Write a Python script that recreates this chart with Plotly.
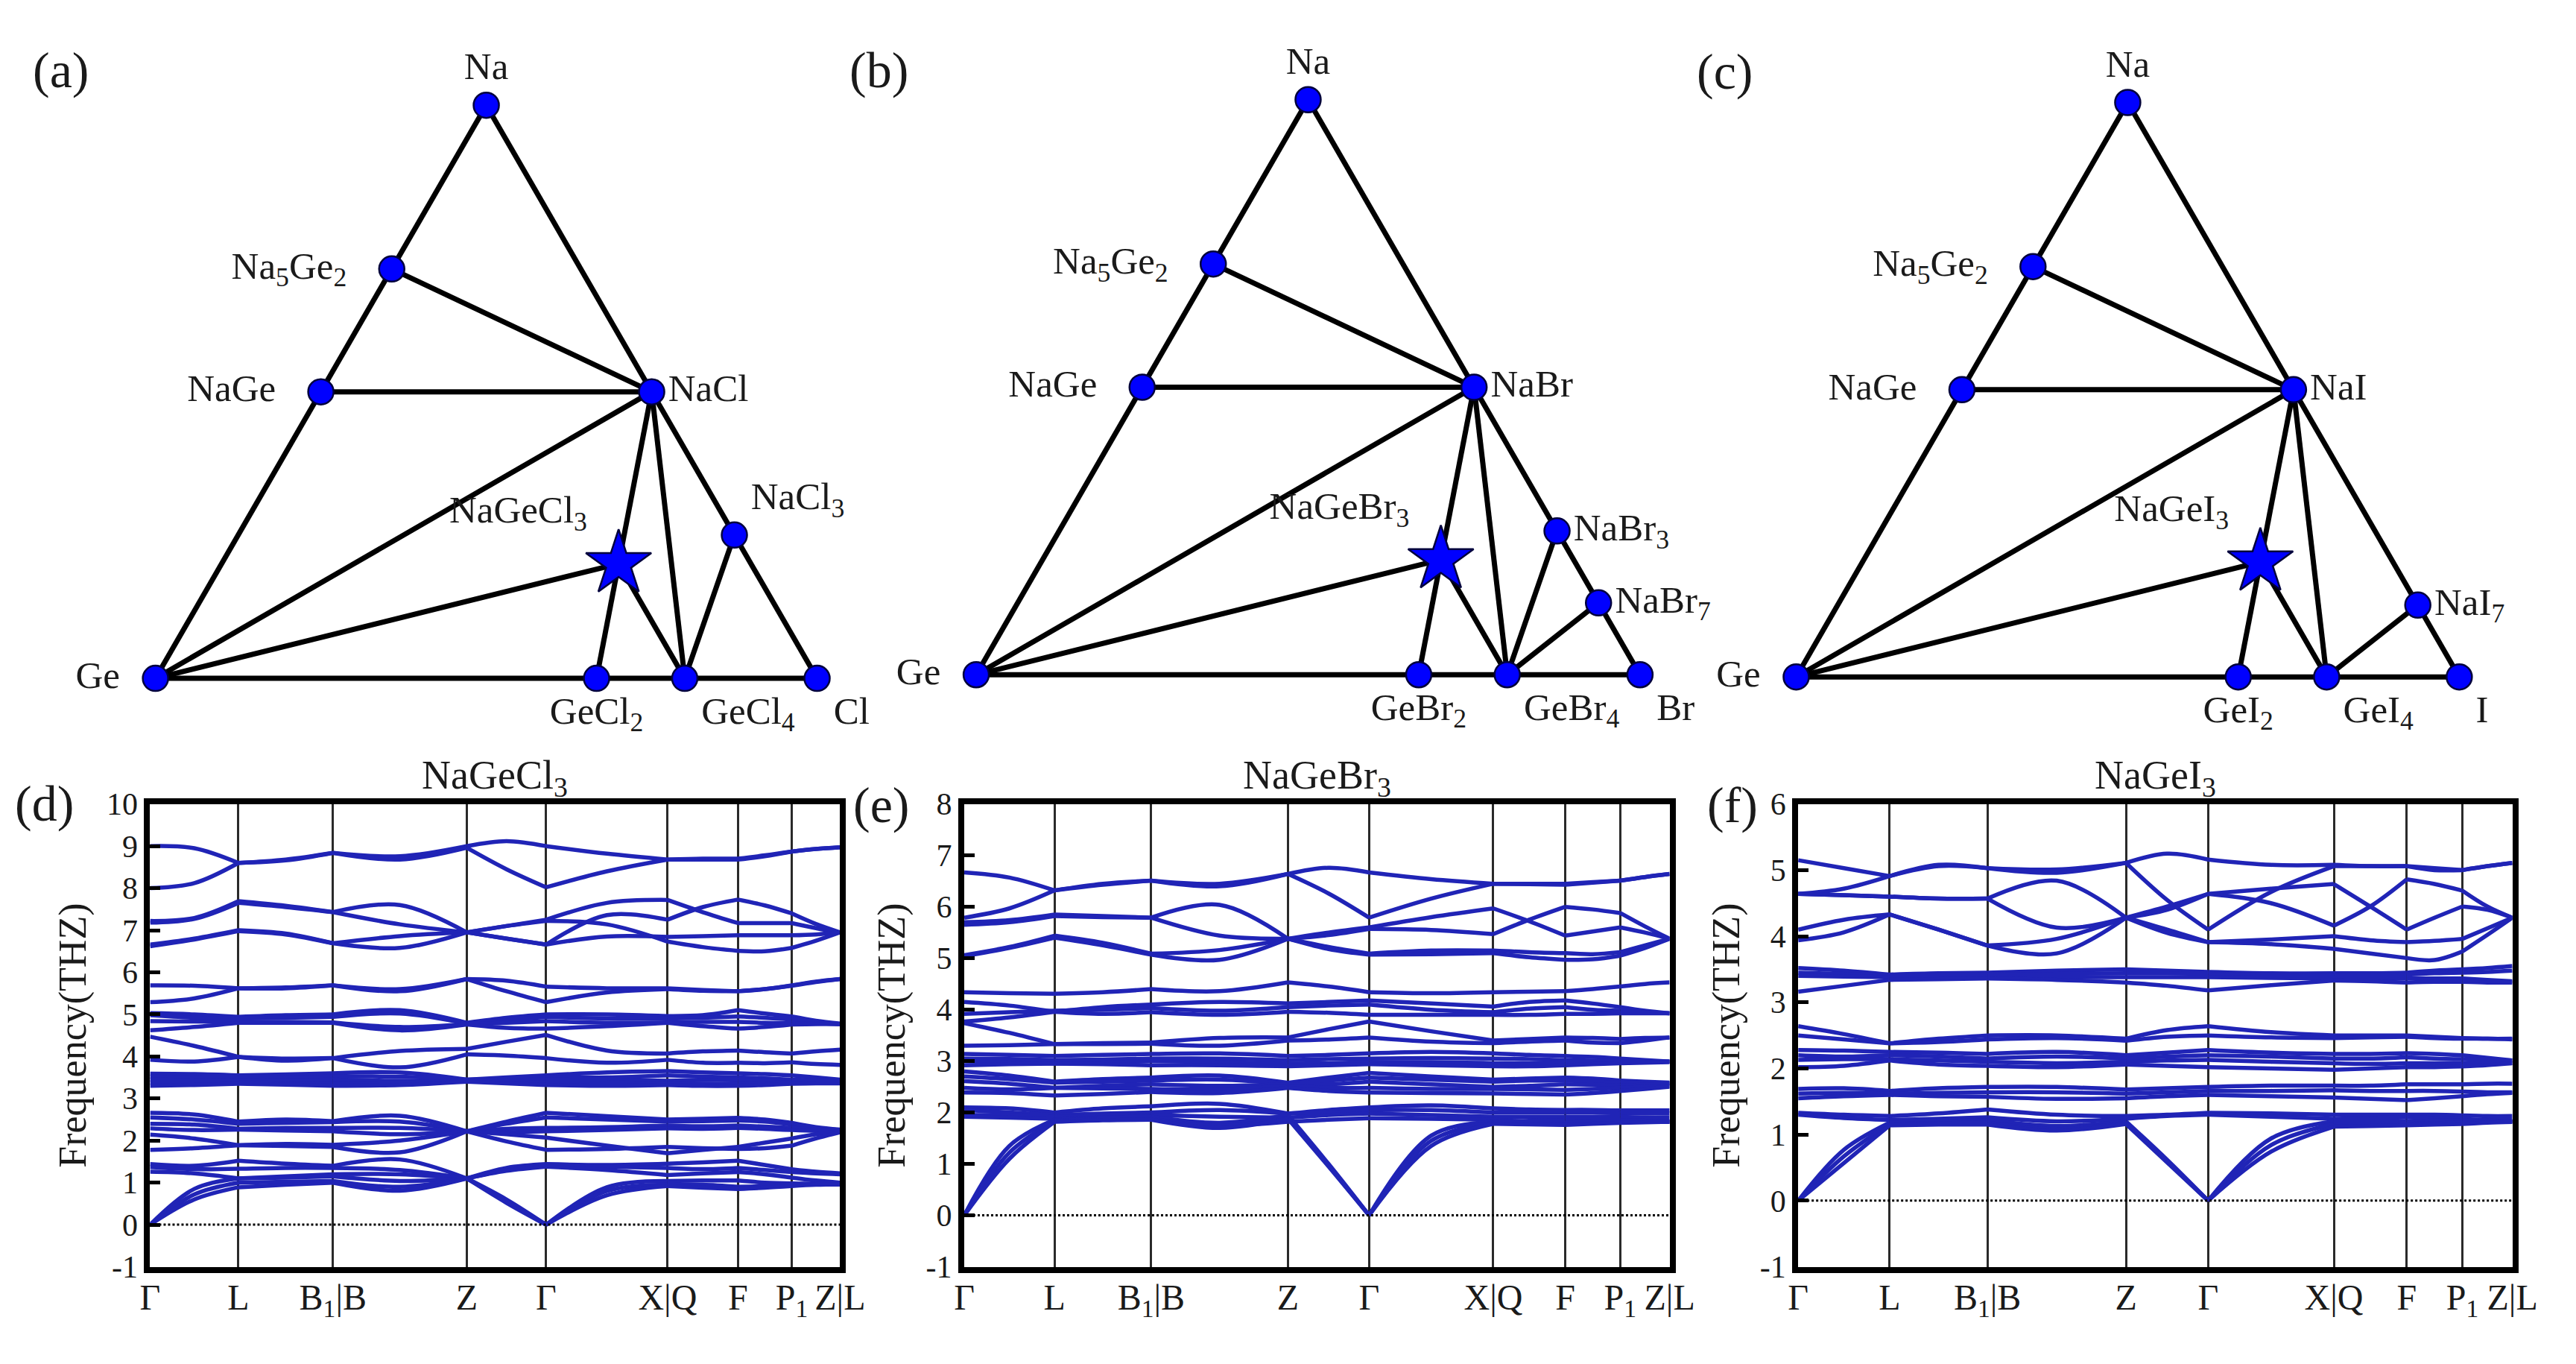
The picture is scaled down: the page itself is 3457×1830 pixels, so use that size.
import plotly.graph_objects as go

W, H = 3457, 1830           # browser window
OFF = 8                      # default body margin of the html page
FIG_W, FIG_H = W - 2 * OFF, H - 2 * OFF
FONT = "Liberation Serif"
TXT = "#1a1a1a"
BAND_COLOR = "rgb(32,36,182)"
DOT_COLOR = "rgb(0,0,255)"
NB = "\u00a0"

COMP_A = {
    "Na": (1, 0, 0), "Na5Ge2": (5/7, 2/7, 0), "NaGe": (0.5, 0.5, 0), "Ge": (0, 1, 0),
    "NaCl": (0.5, 0, 0.5), "NaCl3": (0.25, 0, 0.75), "GeCl2": (0, 1/3, 2/3),
    "GeCl4": (0, 0.2, 0.8), "Cl": (0, 0, 1), "NaGeCl3": (0.2, 0.2, 0.6),
}
COMP_B = {
    "Na": (1, 0, 0), "Na5Ge2": (5/7, 2/7, 0), "NaGe": (0.5, 0.5, 0), "Ge": (0, 1, 0),
    "NaBr": (0.5, 0, 0.5), "NaBr3": (0.25, 0, 0.75), "NaBr7": (0.125, 0, 0.875),
    "GeBr2": (0, 1/3, 2/3), "GeBr4": (0, 0.2, 0.8), "Br": (0, 0, 1),
    "NaGeBr3": (0.2, 0.2, 0.6),
}
COMP_C = {
    "Na": (1, 0, 0), "Na5Ge2": (5/7, 2/7, 0), "NaGe": (0.5, 0.5, 0), "Ge": (0, 1, 0),
    "NaI": (0.5, 0, 0.5), "NaI7": (0.125, 0, 0.875), "GeI2": (0, 1/3, 2/3),
    "GeI4": (0, 0.2, 0.8), "I": (0, 0, 1), "NaGeI3": (0.2, 0.2, 0.6),
}
TIES_A = [("Na5Ge2", "NaCl"), ("NaGe", "NaCl"), ("Ge", "NaCl"), ("Ge", "NaGeCl3"),
          ("NaCl", "NaGeCl3"), ("NaGeCl3", "GeCl2"), ("NaGeCl3", "GeCl4"),
          ("NaCl", "GeCl4"), ("NaCl3", "GeCl4")]
TIES_B = [("Na5Ge2", "NaBr"), ("NaGe", "NaBr"), ("Ge", "NaBr"), ("Ge", "NaGeBr3"),
          ("NaBr", "NaGeBr3"), ("NaGeBr3", "GeBr2"), ("NaGeBr3", "GeBr4"),
          ("NaBr", "GeBr4"), ("NaBr3", "GeBr4"), ("NaBr7", "GeBr4")]
TIES_C = [("Na5Ge2", "NaI"), ("NaGe", "NaI"), ("Ge", "NaI"), ("Ge", "NaGeI3"),
          ("NaI", "NaGeI3"), ("NaGeI3", "GeI2"), ("NaGeI3", "GeI4"),
          ("NaI", "GeI4"), ("NaI7", "GeI4")]
LABELS = {
    "Na": "Na", "Na5Ge2": "Na<sub>5</sub>Ge<sub>2</sub>" + NB * 3, "NaGe": "NaGe" + NB * 3,
    "Ge": "Ge" + NB * 2,
    "NaCl": "NaCl", "NaCl3": "NaCl<sub>3</sub>", "GeCl2": "GeCl<sub>2</sub>",
    "GeCl4": "GeCl<sub>4</sub>", "Cl": "Cl", "NaGeCl3": "NaGeCl<sub>3</sub>",
    "NaBr": "NaBr", "NaBr3": "NaBr<sub>3</sub>", "NaBr7": "NaBr<sub>7</sub>",
    "GeBr2": "GeBr<sub>2</sub>", "GeBr4": "GeBr<sub>4</sub>", "Br": "Br",
    "NaGeBr3": "NaGeBr<sub>3</sub>",
    "NaI": "NaI", "NaI7": "NaI<sub>7</sub>", "GeI2": "GeI<sub>2</sub>",
    "GeI4": "GeI<sub>4</sub>", "I": "I", "NaGeI3": "NaGeI<sub>3</sub>",
}
POS = {
    "Na": "top center", "Na5Ge2": "middle left", "NaGe": "middle left", "Ge": "middle left",
    "NaCl": "middle right", "NaCl3": "top right", "GeCl2": "bottom center",
    "GeCl4": "bottom right", "Cl": "bottom right", "NaGeCl3": "top left",
    "NaBr": "middle right", "NaBr3": "middle right", "NaBr7": "middle right",
    "GeBr2": "bottom center", "GeBr4": "bottom right", "Br": "bottom right",
    "NaGeBr3": "top left",
    "NaI": "middle right", "NaI7": "middle right", "GeI2": "bottom center",
    "GeI4": "bottom right", "I": "bottom right", "NaGeI3": "top left",
}
STARS = {"NaGeCl3", "NaGeBr3", "NaGeI3"}

K_HS = [0.0, 0.128, 0.265, 0.459, 0.574, 0.750, 0.852, 0.930, 1.0]
K_PATH = [0.0, 0.064, 0.128, 0.1965, 0.265, 0.362, 0.459, 0.5165, 0.574,
          0.662, 0.750, 0.801, 0.852, 0.891, 0.930, 0.965, 1.0]
K_LABELS = ["Γ", "L", "B<sub>1</sub>|B", "Z", "Γ", "X|Q", "F", "P<sub>1</sub>", "Z|L"]

BANDS_CL = [
    [9.00, 8.95, 8.60, 8.68, 8.84, 8.76, 9.00, 9.12, 9.00, 8.82, 8.68, 8.68, 8.68, 8.76, 8.87, 8.93, 8.97],
    [8.00, 8.12, 8.60, 8.66, 8.84, 8.68, 8.96, 8.45, 8.02, 8.40, 8.68, 8.70, 8.70, 8.78, 8.87, 8.93, 8.97],
    [7.22, 7.29, 7.69, 7.58, 7.43, 7.60, 6.95, 7.10, 7.25, 7.65, 7.72, 7.43, 7.17, 7.17, 7.17, 7.05, 6.95],
    [7.18, 7.27, 7.65, 7.55, 7.43, 7.14, 6.95, 7.10, 7.22, 7.14, 6.73, 6.60, 6.51, 6.50, 6.58, 6.75, 6.95],
    [6.66, 6.80, 7.00, 6.92, 6.69, 6.86, 6.95, 6.80, 6.66, 7.36, 7.25, 7.55, 7.73, 7.59, 7.40, 7.15, 6.95],
    [6.62, 6.78, 6.98, 6.90, 6.69, 6.58, 6.95, 6.80, 6.66, 6.85, 6.84, 6.86, 6.88, 6.88, 6.88, 6.90, 6.95],
    [5.69, 5.68, 5.62, 5.64, 5.69, 5.60, 5.84, 5.80, 5.66, 5.62, 5.62, 5.58, 5.55, 5.60, 5.69, 5.78, 5.84],
    [5.29, 5.38, 5.62, 5.62, 5.69, 5.55, 5.84, 5.55, 5.29, 5.52, 5.60, 5.56, 5.55, 5.60, 5.68, 5.77, 5.84],
    [5.03, 5.00, 4.94, 4.98, 5.00, 5.10, 4.80, 4.92, 5.00, 5.00, 4.96, 4.98, 5.10, 5.02, 4.95, 4.85, 4.78],
    [4.98, 4.92, 4.90, 4.92, 4.94, 5.02, 4.78, 4.86, 4.94, 4.90, 4.90, 4.92, 4.95, 4.92, 4.88, 4.82, 4.77],
    [4.84, 4.83, 4.82, 4.82, 4.81, 4.70, 4.77, 4.80, 4.84, 4.80, 4.81, 4.82, 4.82, 4.80, 4.79, 4.78, 4.77],
    [4.62, 4.70, 4.80, 4.80, 4.80, 4.62, 4.76, 4.68, 4.66, 4.72, 4.80, 4.72, 4.66, 4.70, 4.76, 4.77, 4.77],
    [4.47, 4.25, 3.99, 3.95, 3.96, 4.13, 4.18, 4.35, 4.51, 4.14, 4.07, 4.12, 4.14, 4.10, 4.07, 4.12, 4.16],
    [3.92, 3.88, 3.99, 3.90, 3.96, 3.74, 4.05, 4.02, 3.96, 3.85, 3.92, 3.85, 3.85, 3.84, 3.86, 3.82, 3.80],
    [3.59, 3.58, 3.55, 3.57, 3.60, 3.62, 3.45, 3.50, 3.55, 3.62, 3.65, 3.62, 3.60, 3.58, 3.55, 3.50, 3.45],
    [3.52, 3.50, 3.48, 3.50, 3.52, 3.52, 3.45, 3.47, 3.50, 3.50, 3.55, 3.52, 3.50, 3.48, 3.45, 3.44, 3.42],
    [3.45, 3.44, 3.42, 3.43, 3.45, 3.42, 3.42, 3.44, 3.45, 3.45, 3.42, 3.44, 3.45, 3.43, 3.40, 3.40, 3.40],
    [3.38, 3.38, 3.38, 3.37, 3.36, 3.38, 3.42, 3.40, 3.38, 3.38, 3.36, 3.35, 3.36, 3.37, 3.38, 3.38, 3.38],
    [3.30, 3.32, 3.35, 3.33, 3.30, 3.32, 3.40, 3.36, 3.32, 3.30, 3.32, 3.30, 3.30, 3.32, 3.35, 3.36, 3.36],
    [2.66, 2.62, 2.45, 2.50, 2.46, 2.59, 2.22, 2.45, 2.66, 2.58, 2.50, 2.52, 2.54, 2.50, 2.42, 2.32, 2.26],
    [2.55, 2.50, 2.40, 2.42, 2.44, 2.45, 2.22, 2.40, 2.55, 2.50, 2.45, 2.46, 2.48, 2.45, 2.38, 2.30, 2.25],
    [2.40, 2.38, 2.28, 2.30, 2.30, 2.30, 2.22, 2.28, 2.30, 2.32, 2.36, 2.34, 2.36, 2.33, 2.30, 2.26, 2.24],
    [2.29, 2.25, 2.26, 2.24, 2.22, 2.15, 2.22, 2.20, 2.22, 2.25, 2.29, 2.28, 2.30, 2.28, 2.25, 2.23, 2.22],
    [2.14, 2.05, 1.89, 1.92, 1.90, 2.00, 2.22, 2.15, 2.07, 1.88, 1.70, 1.78, 1.85, 1.95, 2.05, 2.15, 2.22],
    [1.78, 1.82, 1.89, 1.87, 1.85, 1.72, 2.22, 1.98, 1.78, 1.80, 1.85, 1.82, 1.80, 1.82, 1.88, 2.05, 2.20],
    [1.44, 1.40, 1.52, 1.45, 1.40, 1.55, 1.10, 1.35, 1.44, 1.42, 1.45, 1.48, 1.52, 1.42, 1.32, 1.26, 1.22],
    [1.37, 1.32, 1.33, 1.35, 1.35, 1.30, 1.10, 1.30, 1.40, 1.38, 1.35, 1.32, 1.35, 1.30, 1.25, 1.22, 1.20],
    [1.26, 1.22, 1.10, 1.15, 1.20, 1.20, 1.10, 1.28, 1.38, 1.30, 1.18, 1.22, 1.25, 1.20, 1.12, 1.05, 1.00],
    [0.00, 0.85, 1.10, 1.12, 1.15, 1.04, 1.10, 0.60, 0.00, 0.89, 1.04, 1.05, 1.05, 1.00, 0.98, 0.97, 0.96],
    [0.00, 0.72, 1.00, 1.02, 1.04, 0.90, 1.10, 0.56, 0.00, 0.80, 0.95, 0.95, 0.90, 0.92, 0.95, 0.96, 0.96],
    [0.00, 0.60, 0.89, 0.95, 1.00, 0.81, 1.10, 0.52, 0.00, 0.70, 0.92, 0.88, 0.85, 0.88, 0.92, 0.95, 0.96],
]

BANDS_BR = [
    [6.67, 6.57, 6.32, 6.45, 6.51, 6.45, 6.64, 6.76, 6.67, 6.54, 6.45, 6.45, 6.45, 6.48, 6.51, 6.58, 6.64],
    [5.79, 5.97, 6.32, 6.43, 6.51, 6.40, 6.64, 6.26, 5.79, 6.16, 6.45, 6.44, 6.43, 6.47, 6.51, 6.58, 6.64],
    [5.70, 5.74, 5.85, 5.82, 5.79, 6.04, 5.38, 5.50, 5.60, 5.80, 5.97, 5.72, 5.44, 5.52, 5.60, 5.50, 5.38],
    [5.65, 5.70, 5.82, 5.80, 5.79, 5.44, 5.38, 5.45, 5.57, 5.55, 5.47, 5.75, 6.00, 5.95, 5.88, 5.62, 5.38],
    [5.06, 5.22, 5.44, 5.30, 5.09, 5.16, 5.38, 5.22, 5.09, 5.15, 5.15, 5.12, 5.10, 5.08, 5.12, 5.25, 5.38],
    [5.04, 5.20, 5.40, 5.25, 5.07, 4.97, 5.38, 5.18, 5.07, 5.08, 5.10, 5.02, 4.97, 4.98, 5.05, 5.20, 5.38],
    [4.34, 4.32, 4.31, 4.34, 4.40, 4.36, 4.53, 4.45, 4.34, 4.32, 4.34, 4.35, 4.36, 4.40, 4.45, 4.50, 4.53],
    [4.15, 4.08, 3.96, 4.05, 4.10, 4.15, 4.12, 4.15, 4.18, 4.12, 4.06, 4.15, 4.18, 4.12, 4.05, 3.98, 3.93],
    [3.92, 3.95, 3.98, 4.00, 4.03, 3.98, 4.05, 4.08, 4.10, 4.00, 3.95, 4.02, 4.05, 4.00, 3.98, 3.95, 3.93],
    [3.77, 3.85, 3.96, 3.92, 3.95, 3.90, 3.96, 3.94, 3.90, 3.90, 3.90, 3.90, 3.92, 3.92, 3.93, 3.93, 3.93],
    [3.74, 3.55, 3.33, 3.35, 3.36, 3.45, 3.46, 3.62, 3.77, 3.58, 3.40, 3.43, 3.46, 3.45, 3.43, 3.45, 3.46],
    [3.30, 3.31, 3.33, 3.33, 3.34, 3.30, 3.40, 3.42, 3.46, 3.38, 3.35, 3.38, 3.40, 3.36, 3.35, 3.40, 3.46],
    [3.14, 3.12, 3.10, 3.12, 3.14, 3.15, 3.10, 3.12, 3.15, 3.18, 3.15, 3.12, 3.10, 3.08, 3.05, 3.02, 2.99],
    [3.05, 3.04, 3.02, 3.03, 3.05, 3.05, 3.02, 3.04, 3.05, 3.06, 3.05, 3.04, 3.02, 3.01, 3.00, 2.99, 2.99],
    [3.00, 2.98, 2.95, 2.97, 3.00, 2.98, 2.95, 2.96, 2.98, 2.98, 2.96, 2.96, 2.98, 2.98, 2.98, 2.98, 2.99],
    [2.92, 2.94, 2.95, 2.94, 2.92, 2.92, 2.90, 2.92, 2.94, 2.92, 2.90, 2.90, 2.92, 2.94, 2.96, 2.97, 2.98],
    [2.80, 2.72, 2.60, 2.65, 2.68, 2.72, 2.58, 2.68, 2.77, 2.70, 2.64, 2.66, 2.68, 2.66, 2.62, 2.60, 2.58],
    [2.70, 2.65, 2.58, 2.60, 2.62, 2.64, 2.56, 2.62, 2.68, 2.64, 2.60, 2.62, 2.62, 2.60, 2.58, 2.58, 2.57],
    [2.61, 2.56, 2.48, 2.52, 2.55, 2.52, 2.55, 2.55, 2.60, 2.55, 2.50, 2.52, 2.55, 2.54, 2.52, 2.54, 2.56],
    [2.48, 2.45, 2.48, 2.47, 2.46, 2.45, 2.52, 2.48, 2.48, 2.46, 2.46, 2.45, 2.44, 2.46, 2.48, 2.50, 2.52],
    [2.39, 2.38, 2.33, 2.36, 2.40, 2.38, 2.48, 2.42, 2.39, 2.38, 2.37, 2.36, 2.35, 2.38, 2.42, 2.46, 2.50],
    [2.10, 2.08, 2.00, 2.08, 2.12, 2.17, 1.98, 2.05, 2.10, 2.14, 2.08, 2.06, 2.05, 2.05, 2.04, 2.04, 2.04],
    [2.05, 2.00, 1.95, 1.98, 2.00, 2.05, 1.98, 2.00, 2.05, 2.05, 2.00, 2.00, 2.00, 2.00, 1.98, 1.98, 1.98],
    [1.95, 1.95, 1.92, 1.93, 1.95, 1.92, 1.90, 1.95, 1.98, 1.95, 1.92, 1.92, 1.92, 1.92, 1.92, 1.90, 1.90],
    [1.92, 1.90, 1.88, 1.90, 1.92, 1.76, 1.82, 1.86, 1.89, 1.88, 1.86, 1.82, 1.78, 1.80, 1.84, 1.84, 1.82],
    [0.00, 1.35, 1.86, 1.90, 1.92, 1.80, 1.95, 1.00, 0.00, 1.55, 1.82, 1.84, 1.85, 1.85, 1.85, 1.84, 1.82],
    [0.00, 1.22, 1.84, 1.87, 1.88, 1.74, 1.90, 0.97, 0.00, 1.45, 1.80, 1.80, 1.80, 1.82, 1.82, 1.82, 1.82],
    [0.00, 1.10, 1.82, 1.85, 1.86, 1.70, 1.88, 0.95, 0.00, 1.35, 1.78, 1.77, 1.76, 1.78, 1.80, 1.81, 1.82],
]

BANDS_I = [
    [5.15, 5.03, 4.91, 5.06, 5.03, 5.01, 5.11, 5.25, 5.16, 5.08, 5.08, 5.06, 5.06, 5.00, 5.00, 5.06, 5.11],
    [4.64, 4.72, 4.91, 5.08, 5.03, 4.96, 5.11, 4.55, 4.10, 4.67, 5.06, 5.06, 5.06, 5.03, 5.00, 5.06, 5.11],
    [4.64, 4.62, 4.60, 4.57, 4.57, 4.84, 4.28, 4.45, 4.64, 4.72, 4.79, 4.45, 4.10, 4.28, 4.45, 4.40, 4.28],
    [4.64, 4.62, 4.60, 4.57, 4.57, 4.13, 4.28, 4.40, 4.64, 4.50, 4.16, 4.45, 4.86, 4.79, 4.69, 4.45, 4.28],
    [4.10, 4.25, 4.33, 4.10, 3.86, 3.96, 4.28, 4.10, 3.91, 3.95, 4.00, 3.94, 3.91, 3.93, 3.96, 4.12, 4.28],
    [3.94, 4.06, 4.33, 4.10, 3.86, 3.74, 4.28, 4.05, 3.91, 3.88, 3.81, 3.74, 3.67, 3.64, 3.77, 4.02, 4.28],
    [3.52, 3.48, 3.42, 3.44, 3.45, 3.48, 3.50, 3.48, 3.46, 3.44, 3.44, 3.44, 3.45, 3.48, 3.50, 3.52, 3.55],
    [3.45, 3.43, 3.40, 3.41, 3.42, 3.43, 3.44, 3.44, 3.43, 3.42, 3.40, 3.40, 3.42, 3.44, 3.45, 3.46, 3.48],
    [3.40, 3.39, 3.38, 3.38, 3.38, 3.38, 3.38, 3.38, 3.38, 3.37, 3.36, 3.36, 3.36, 3.36, 3.36, 3.34, 3.32],
    [3.16, 3.25, 3.34, 3.35, 3.36, 3.34, 3.30, 3.25, 3.18, 3.26, 3.33, 3.32, 3.30, 3.31, 3.31, 3.30, 3.30],
    [2.64, 2.52, 2.38, 2.45, 2.50, 2.50, 2.45, 2.58, 2.64, 2.55, 2.50, 2.50, 2.50, 2.48, 2.46, 2.45, 2.45],
    [2.50, 2.44, 2.38, 2.40, 2.44, 2.46, 2.42, 2.48, 2.50, 2.47, 2.46, 2.47, 2.48, 2.46, 2.45, 2.45, 2.44],
    [2.28, 2.27, 2.25, 2.24, 2.22, 2.25, 2.20, 2.24, 2.28, 2.24, 2.22, 2.22, 2.23, 2.22, 2.20, 2.16, 2.12],
    [2.20, 2.18, 2.20, 2.18, 2.15, 2.18, 2.15, 2.18, 2.20, 2.18, 2.15, 2.15, 2.17, 2.15, 2.14, 2.13, 2.12],
    [2.13, 2.14, 2.14, 2.12, 2.10, 2.08, 2.10, 2.12, 2.13, 2.10, 2.08, 2.07, 2.08, 2.08, 2.08, 2.08, 2.08],
    [2.02, 2.04, 2.12, 2.06, 2.04, 2.02, 2.06, 2.04, 2.02, 2.00, 1.98, 2.00, 2.02, 2.02, 2.03, 2.05, 2.08],
    [1.69, 1.70, 1.66, 1.70, 1.72, 1.72, 1.68, 1.70, 1.72, 1.74, 1.74, 1.74, 1.76, 1.76, 1.76, 1.77, 1.77],
    [1.62, 1.63, 1.62, 1.63, 1.64, 1.64, 1.62, 1.64, 1.66, 1.66, 1.67, 1.66, 1.66, 1.66, 1.65, 1.64, 1.64],
    [1.55, 1.58, 1.60, 1.58, 1.57, 1.54, 1.55, 1.58, 1.60, 1.58, 1.56, 1.54, 1.52, 1.55, 1.58, 1.61, 1.63],
    [1.33, 1.30, 1.28, 1.32, 1.38, 1.30, 1.28, 1.30, 1.33, 1.32, 1.30, 1.30, 1.30, 1.30, 1.29, 1.28, 1.28],
    [1.30, 1.25, 1.22, 1.24, 1.26, 1.20, 1.24, 1.28, 1.30, 1.27, 1.24, 1.25, 1.26, 1.25, 1.24, 1.22, 1.22],
    [0.00, 0.77, 1.18, 1.20, 1.22, 1.13, 1.20, 0.62, 0.00, 0.94, 1.20, 1.20, 1.20, 1.21, 1.22, 1.21, 1.20],
    [0.00, 0.67, 1.16, 1.17, 1.18, 1.08, 1.18, 0.60, 0.00, 0.84, 1.16, 1.16, 1.16, 1.17, 1.18, 1.19, 1.20],
    [0.00, 0.57, 1.14, 1.15, 1.15, 1.06, 1.16, 0.58, 0.00, 0.74, 1.12, 1.13, 1.14, 1.15, 1.16, 1.18, 1.19],
]

Y_RANGES = [(-1, 10), (-1, 8), (-1, 6)]
TITLES = ["NaGeCl<sub>3</sub>", "NaGeBr<sub>3</sub>", "NaGeI<sub>3</sub>"]

TERN_BOX = [(192, 911, 911), (1309, 906, 914), (2425, 909, 913)]  # left x, base y, side (window px)
BAND_X = [(190, 1129), (1298, 2258), (2433, 3405)]
BAND_Y = (1084, 1721)


def px(x):
    return (x - OFF) / FIG_W


def py(y):
    return 1 - (y - OFF) / FIG_H


fig = go.Figure()

for i, (comp, ties) in enumerate([(COMP_A, TIES_A), (COMP_B, TIES_B), (COMP_C, TIES_C)]):
    sub = "ternary" if i == 0 else f"ternary{i + 1}"
    for p, q in ties:
        fig.add_trace(go.Scatterternary(
            a=[comp[p][0], comp[q][0]], b=[comp[p][1], comp[q][1]], c=[comp[p][2], comp[q][2]],
            mode="lines", line=dict(color="black", width=7), subplot=sub, cliponaxis=False,
            showlegend=False, hoverinfo="skip"))
    names = list(comp.keys())
    fig.add_trace(go.Scatterternary(
        a=[comp[n][0] for n in names], b=[comp[n][1] for n in names], c=[comp[n][2] for n in names],
        mode="markers+text", subplot=sub, showlegend=False, hoverinfo="skip", cliponaxis=False,
        opacity=1,
        text=[LABELS[n] for n in names], textposition=[POS[n] for n in names],
        textfont=dict(family=FONT, size=51, color=TXT),
        marker=dict(symbol=["star" if n in STARS else "circle" for n in names],
                    size=[66 if n in STARS else 34 for n in names], opacity=1,
                    color=DOT_COLOR, line=dict(color="rgb(0,0,60)", width=2.5))))

for i, bands in enumerate([BANDS_CL, BANDS_BR, BANDS_I]):
    xs, ys = [], []
    for band in bands:
        for s in range(8):
            xs += K_PATH[2 * s:2 * s + 3] + [None]
            ys += band[2 * s:2 * s + 3] + [None]
    xa = "x" if i == 0 else f"x{i + 1}"
    ya = "y" if i == 0 else f"y{i + 1}"
    fig.add_trace(go.Scatter(x=xs, y=ys, mode="lines", xaxis=xa, yaxis=ya,
                             line=dict(color=BAND_COLOR, width=5.5, shape="spline"),
                             showlegend=False, hoverinfo="skip", connectgaps=False))

layout = dict(width=FIG_W, height=FIG_H, margin=dict(l=0, r=0, t=0, b=0),
              paper_bgcolor="white", plot_bgcolor="white",
              font=dict(family=FONT, color=TXT), showlegend=False)

edge = dict(showline=True, linecolor="black", linewidth=7, layer="below traces",
            showgrid=False, showticklabels=False, ticks="", title=dict(text=""))
for i, (x0, yb, side) in enumerate(TERN_BOX):
    key = "ternary" if i == 0 else f"ternary{i + 1}"
    h = side * 3 ** 0.5 / 2
    layout[key] = dict(domain=dict(x=[px(x0), px(x0 + side)], y=[py(yb), py(yb - h)]),
                       bgcolor="rgba(0,0,0,0)", sum=1,
                       aaxis=edge, baxis=edge, caxis=edge)

annotations = []
shapes = []
for i in range(3):
    xk = "xaxis" if i == 0 else f"xaxis{i + 1}"
    yk = "yaxis" if i == 0 else f"yaxis{i + 1}"
    xa = "x" if i == 0 else f"x{i + 1}"
    ya = "y" if i == 0 else f"y{i + 1}"
    lo, hi = Y_RANGES[i]
    layout[xk] = dict(domain=[px(BAND_X[i][0]), px(BAND_X[i][1])], range=[0, 1], anchor=ya,
                      tickmode="array", tickvals=K_HS, ticktext=K_LABELS, ticks="",
                      showgrid=True, gridcolor="#2a2a2a", gridwidth=2.5, zeroline=False,
                      showline=True, linecolor="black", linewidth=8, mirror=True,
                      tickfont=dict(family=FONT, size=48, color=TXT), ticklabelstandoff=-8)
    layout[yk] = dict(domain=[py(BAND_Y[1]), py(BAND_Y[0])], range=[lo, hi], anchor=xa,
                      tickmode="array", tickvals=list(range(lo, hi + 1)),
                      ticktext=[str(v) for v in range(lo, hi + 1)],
                      ticks="inside", ticklen=14, tickwidth=5, tickcolor="black",
                      showgrid=False, zeroline=False,
                      showline=True, linecolor="black", linewidth=8, mirror=True,
                      tickfont=dict(family=FONT, size=42, color=TXT),
                      title=dict(text="Frequency(THZ)", font=dict(family=FONT, size=52, color=TXT),
                                 standoff=14))
    annotations.append(dict(text=TITLES[i], xref=f"{xa} domain", yref=f"{ya} domain",
                            x=0.5, y=1.0, yanchor="bottom", yshift=0, showarrow=False,
                            font=dict(family=FONT, size=54, color=TXT)))
    shapes.append(dict(type="line", xref=xa, yref=ya, x0=0, x1=1, y0=0, y1=0,
                       line=dict(color="black", width=3, dash="dot")))

PANEL_LABELS = [("(a)", 68, 74), ("(b)", 1182, 74), ("(c)", 2333, 76),
                ("(d)", 46, 1083), ("(e)", 1185, 1085), ("(f)", 2344, 1085)]
for t, x, y in PANEL_LABELS:
    annotations.append(dict(text=t, xref="paper", yref="paper", x=px(x), y=py(y),
                            xanchor="center", yanchor="middle", showarrow=False,
                            font=dict(family=FONT, size=68, color=TXT)))

layout["annotations"] = annotations
layout["shapes"] = shapes
fig.update_layout(**layout)
fig.write_html("out.html")
